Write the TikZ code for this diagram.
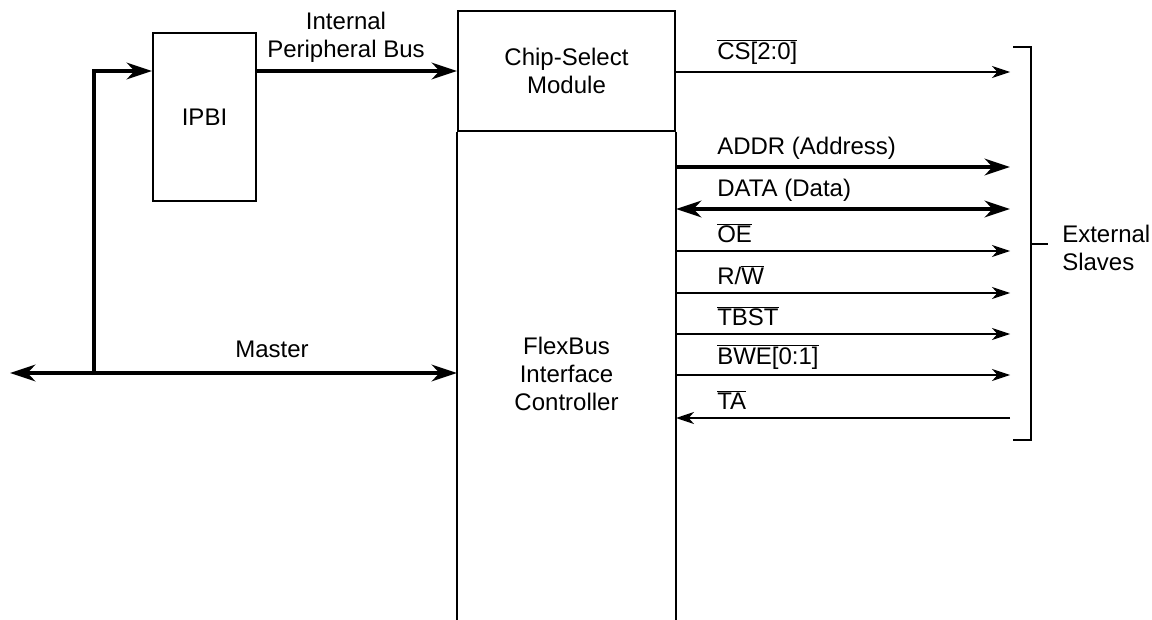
\documentclass[tikz,border=0pt]{standalone}
\usepackage{fontspec}
\setmainfont{Liberation Sans}
\usetikzlibrary{arrows.meta}
\newcommand{\ovl}[1]{$\overline{\mbox{#1}}$}
\begin{document}
\begin{tikzpicture}[x=0.75pt,y=-0.75pt,
  every node/.style={font=\fontsize{18pt}{21pt}\selectfont},
  bhead/.tip={Stealth[length=19pt,width=12.5pt,inset=6pt]},
  shead/.tip={Stealth[length=13.5pt,width=9pt,inset=4pt]},
  bus/.style={line width=3pt,line join=miter,-bhead},
  dbus/.style={line width=3pt,bhead-bhead},
  sig/.style={line width=1.1pt,-shead},
  sigthin/.style={line width=0.8pt,-shead},
  blk/.style={draw,line width=1.5pt,inner sep=0pt,align=center},
  lbl/.style={anchor=west,inner sep=0pt}]
\useasboundingbox (0,0) rectangle (1152,620);
% blocks
\node[blk,minimum width=77.25pt,minimum height=126pt] (ipbi) at (204.5,117) {IPBI};
\node[blk,minimum width=162.75pt,minimum height=90pt] (csm) at (566.5,71) {Chip-Select\\Module};
\draw[line width=1.5pt] (csm.south west) -- (csm.south west |- 0,620);
\draw[line width=1.5pt] (csm.south east) -- (csm.south east |- 0,620);
\node[align=center,inner sep=0pt] (fbc) at (566.5,374) {FlexBus\\Interface\\Controller};
% left side
\coordinate (L) at (10,373);
\coordinate (J) at (94,373);
\draw[dbus] (L) -- (L -| csm.west);
\node[inner sep=0pt] (master) at (272,349) {Master};
\draw[bus] ([yshift=-1.5pt]J) |- (ipbi.west |- csm.west);
\draw[bus] (ipbi.east |- csm.west) -- (csm.west);
\node[align=center,inner sep=0pt] (ipb) at (346,37) {Internal\\Peripheral Bus};
% bracket end points
\coordinate (e1) at (1010,72);
\coordinate (e2) at (1010,167);
\coordinate (e3) at (1010,209);
\coordinate (e4) at (1010,251);
\coordinate (e5) at (1010,293);
\coordinate (e6) at (1010,334);
\coordinate (e7) at (1010,375);
\coordinate (e8) at (1010,418);
\draw[sigthin] (csm.east |- e1) -- (e1);
\draw[bus] (csm.east |- e2) -- (e2);
\draw[dbus] (csm.east |- e3) -- (e3);
\draw[sig] (csm.east |- e4) -- (e4);
\draw[sig] (csm.east |- e5) -- (e5);
\draw[sigthin] (csm.east |- e6) -- (e6);
\draw[sigthin] (csm.east |- e7) -- (e7);
\draw[sig] (e8) -- (csm.east |- e8);
% labels
\node[lbl] (l1) at (717,52) {\ovl{CS[2:0]}};
\node[lbl] (l2) at (717,148) {ADDR (Address)};
\node[lbl] (l3) at (717,190) {DATA (Data)};
\node[lbl] (l4) at (717,233) {\ovl{OE}};
\node[lbl] (l5) at (717,275) {R/\ovl{W}};
\node[lbl] (l6) at (717,316) {\ovl{TBST}};
\node[lbl] (l7) at (717,357) {\ovl{BWE[0:1]}};
\node[lbl] (l8) at (717,400) {\ovl{TA}};
% bracket
\coordinate (bt) at (1031,47);
\coordinate (bb) at (1031,440);
\coordinate (bm) at (1031,244);
\draw[line width=1.5pt] (1013,47) -- (bt) -- (bb) -- (1013,440);
\draw[line width=1.5pt] (bm) -- ++(17,0) coordinate (bme);
\node[anchor=west,align=left,inner sep=0pt] (ext) at (1062,248) {External\\Slaves};
\end{tikzpicture}
\end{document}
